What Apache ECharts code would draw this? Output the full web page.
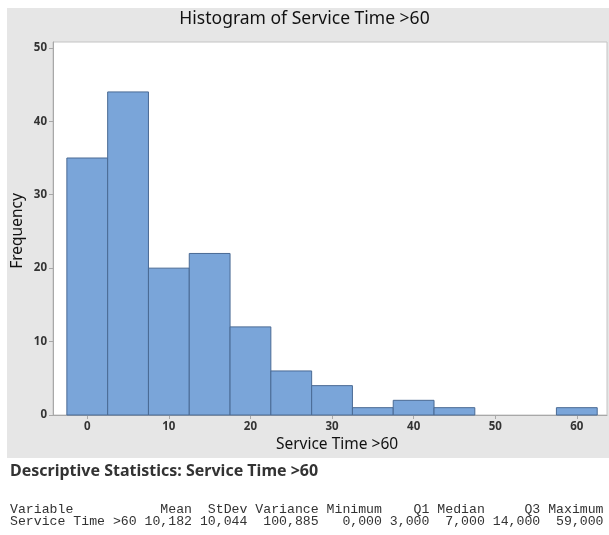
<!DOCTYPE html>
<html>
<head>
<meta charset="utf-8">
<script src="https://cdn.jsdelivr.net/npm/echarts@6/dist/echarts.min.js"></script>
<style>
html,body{margin:0;padding:0;background:#fff;}
#chart{width:609px;height:535px;}
</style>
</head>
<body>
<div id="chart"></div>
<script>
// ---- data ----
const binCenters = [0, 5, 10, 15, 20, 25, 30, 35, 40, 45, 50, 55, 60];
const frequencies = [35, 44, 20, 22, 12, 6, 4, 1, 2, 1, 0, 0, 1];
const binWidth = 5;
const xTicks = [0, 10, 20, 30, 40, 50, 60];
const yTicks = [0, 10, 20, 30, 40, 50];
const statHeaders = ['Variable', 'Mean', 'StDev', 'Variance', 'Minimum', 'Q1', 'Median', 'Q3', 'Maximum'];
const statValues = ['Service Time >60', '10,182', '10,044', '100,885', '0,000', '3,000', '7,000', '14,000', '59,000'];
const colWidths = [16, 7, 7, 9, 8, 6, 7, 7, 8];

function padRow(cells) {
  let s = cells[0].padEnd(colWidths[0], ' ');
  for (let i = 1; i < cells.length; i++) s += cells[i].padStart(colWidths[i], ' ');
  return s;
}
const headerLine = padRow(statHeaders);
const valueLine = padRow(statValues);

const histData = binCenters.map((c, i) => [c, frequencies[i]]);

const chart = echarts.init(document.getElementById('chart'), null, {renderer: 'canvas'});
const sans = "'Noto Sans', 'Open Sans', sans-serif";
const mono = "'Liberation Mono', 'DejaVu Sans Mono', monospace";

chart.setOption({
  backgroundColor: '#ffffff',
  animation: false,
  title: {
    text: 'Histogram of Service Time >60',
    left: 'center',
    top: 5,
    textStyle: {fontFamily: sans, fontSize: 17.5, fontWeight: 'normal', color: '#111'}
  },
  grid: {
    left: 53, top: 42, right: 2, bottom: 120,
    show: true, backgroundColor: '#ffffff', borderColor: '#c4c4c4', borderWidth: 1
  },
  xAxis: {
    type: 'value', min: -4.2, max: 63.7,
    axisLine: {show: true, onZero: false, lineStyle: {color: '#a8a8a8'}},
    axisTick: {show: true, length: 4, lineStyle: {color: '#a8a8a8'}, customValues: xTicks},
    axisLabel: {customValues: xTicks, margin: 6, fontFamily: sans, fontSize: 11.5, fontWeight: 'bold', color: '#333'},
    splitLine: {show: false}
  },
  yAxis: {
    type: 'value', min: 0, max: 50.8,
    axisLine: {show: true, onZero: false, lineStyle: {color: '#a8a8a8'}},
    axisTick: {show: true, length: 4, lineStyle: {color: '#a8a8a8'}, customValues: yTicks},
    axisLabel: {customValues: yTicks, margin: 6, fontFamily: sans, fontSize: 11.5, fontWeight: 'bold', color: '#333'},
    splitLine: {show: false}
  },
  series: [{
    type: 'custom',
    data: histData,
    renderItem: function (params, api) {
      const c = api.value(0), f = api.value(1);
      if (!f) return null;
      const p0 = api.coord([c - binWidth / 2, f]);
      const p1 = api.coord([c + binWidth / 2, 0]);
      return {
        type: 'rect',
        shape: {x: p0[0], y: p0[1], width: p1[0] - p0[0], height: p1[1] - p0[1]},
        style: {fill: '#7aa5d9', stroke: '#4a6a94', lineWidth: 1}
      };
    },
    encode: {x: 0, y: 1}
  }],
  graphic: [
    {type: 'rect', z: -10, shape: {x: 7, y: 8, width: 602, height: 450}, style: {fill: '#e6e6e6'}},
    {type: 'text', x: 18, y: 231, rotation: Math.PI / 2,
      style: {text: 'Frequency', fontFamily: sans, fontSize: 15.5, fill: '#111', align: 'center', verticalAlign: 'middle'}},
    {type: 'text', x: 337, y: 445,
      style: {text: 'Service Time >60', fontFamily: sans, fontSize: 15.5, fill: '#111', align: 'center', verticalAlign: 'middle'}},
    {type: 'text', x: 10, y: 471,
      style: {text: 'Descriptive Statistics: Service Time >60', fontFamily: sans, fontSize: 16, fontWeight: 'bold', fill: '#333', align: 'left', verticalAlign: 'middle'}},
    {type: 'text', x: 10, y: 510,
      style: {text: headerLine, fontFamily: mono, fontSize: 13.2, fill: '#333', align: 'left', verticalAlign: 'middle'}},
    {type: 'text', x: 10, y: 522,
      style: {text: valueLine, fontFamily: mono, fontSize: 13.2, fill: '#333', align: 'left', verticalAlign: 'middle'}}
  ]
});
</script>
</body>
</html>
